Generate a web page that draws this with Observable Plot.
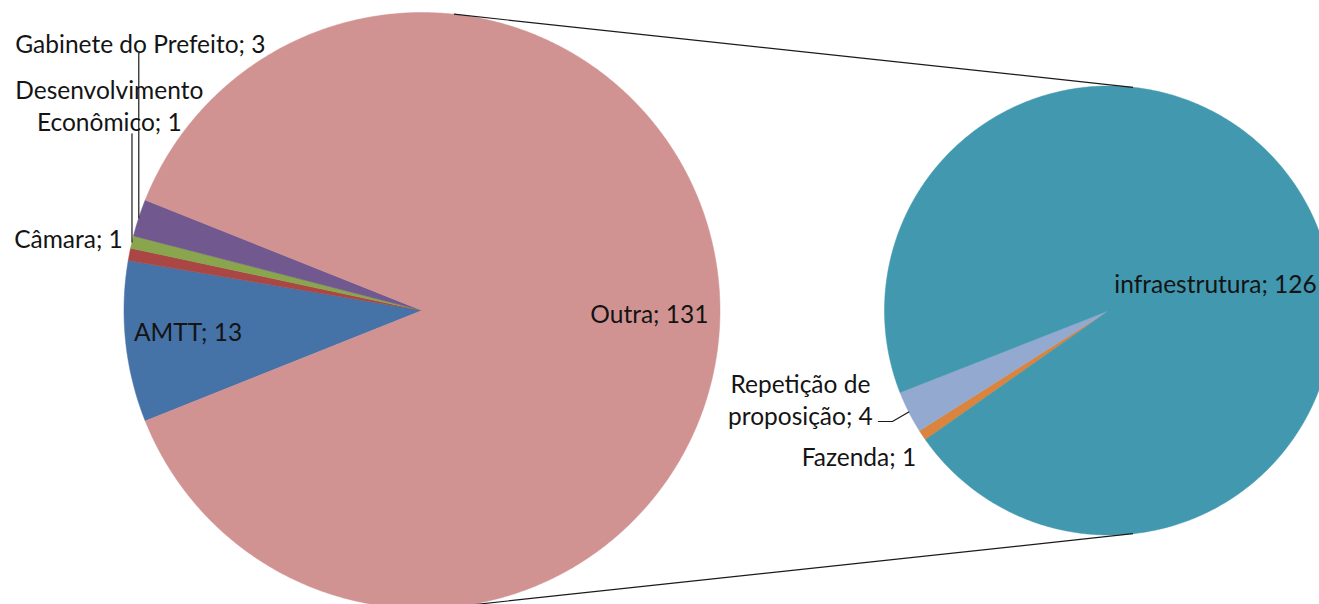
<!DOCTYPE html>
<html>
<head>
<meta charset="utf-8">
<script src="https://cdn.jsdelivr.net/npm/d3@7"></script>
<script src="https://cdn.jsdelivr.net/npm/@observablehq/plot@0.6"></script>
<style>
  html, body { margin: 0; padding: 0; background: #ffffff; overflow: hidden; }
  #chart svg { display: block; }
</style>
</head>
<body>
<div id="chart"></div>
<script>
// ---- data ----
const primaryNames = ["AMTT", "Câmara", "Desenvolvimento\nEconômico", "Gabinete do Prefeito", "Outra"];
const primaryValues = [13, 1, 1, 3, 131];
const secondaryNames = ["Fazenda", "Repetição de\nproposição", "infraestrutura"];
const secondaryValues = [1, 4, 126];

// ---- styles ----
const primaryColors = ["#4572A7", "#AA4643", "#89A54E", "#71588F", "#D19392"];
const secondaryColors = ["#DB843D", "#93A9CF", "#4198AF"];

// ---- layout ----
const W = 1319, H = 604;
const primaryPie = {cx: 421.5, cy: 310, r: 298};
const secondaryPie = {cx: 1108.5, cy: 310, r: 224.5};
const deg = Math.PI / 180;
// label placement in polar terms relative to each pie: [angle (deg, clockwise from top), radius factor]
const labelPolar = {
  "AMTT": [265, 0.788],
  "Câmara": [281.6, 1.211],
  "Desenvolvimento\nEconômico": [303.4, 1.257],
  "Gabinete do Prefeito": [313.6, 1.305],
  "Outra": [90.65, 0.763],
  "Fazenda": [239.8, 1.289],
  "Repetição de\nproposição": [254.0, 1.43],
  "infraestrutura": [75.6, 0.49]
};

// primary: the "Outra" slice is centred on 3 o'clock
const totalPrimary = d3.sum(primaryValues);
const outraSpan = primaryValues[primaryValues.length - 1] / totalPrimary * 2 * Math.PI;
const primaryStart = Math.PI / 2 + outraSpan / 2;
const secondaryStart = 234.85 * deg;

function makeSlices(names, values, colors, pie, start) {
  const arcs = d3.pie().sort(null).startAngle(start).endAngle(start + 2 * Math.PI)(values);
  return arcs.map((a, i) => ({name: names[i], value: values[i], color: colors[i], a0: a.startAngle, a1: a.endAngle, pie}));
}
const slices = [
  ...makeSlices(primaryNames, primaryValues, primaryColors, primaryPie, primaryStart),
  ...makeSlices(secondaryNames, secondaryValues, secondaryColors, secondaryPie, secondaryStart)
];

const polar = (pie, a, f) => ({x: pie.cx + pie.r * f * Math.sin(a), y: pie.cy - pie.r * f * Math.cos(a)});

// slice polygons
const polyPoints = [];
for (const s of slices) {
  const n = Math.max(2, Math.ceil((s.a1 - s.a0) / (0.4 * deg)));
  polyPoints.push({name: s.name, x: s.pie.cx, y: s.pie.cy});
  for (let k = 0; k <= n; k++) {
    const p = polar(s.pie, s.a0 + (s.a1 - s.a0) * k / n, 1);
    polyPoints.push({name: s.name, ...p});
  }
  polyPoints.push({name: s.name, x: s.pie.cx, y: s.pie.cy});
}

// labels
const labels = slices.map(s => {
  const [ang, f] = labelPolar[s.name];
  const p = polar(s.pie, ang * deg, f);
  return {name: s.name, text: s.name + "; " + s.value, ...p, s};
});
const byName = Object.fromEntries(labels.map(d => [d.name, d]));
const rimMid = s => polar(s.pie, (s.a0 + s.a1) / 2, 1);

// leader lines
const leaders = [];
{
  const g = byName["Gabinete do Prefeito"]; const m = rimMid(g.s);
  leaders.push({id: "g", x: m.x, y: g.y + 11}, {id: "g", x: m.x, y: m.y});
  const d = byName["Desenvolvimento\nEconômico"]; const md = rimMid(d.s);
  leaders.push({id: "d", x: md.x, y: d.y + 29.5}, {id: "d", x: md.x, y: md.y});
  const r = byName["Repetição de\nproposição"]; const mr = rimMid(r.s);
  leaders.push({id: "r", x: r.x + 78, y: r.y + 22.5}, {id: "r", x: r.x + 92, y: r.y + 22.5}, {id: "r", x: mr.x, y: mr.y});
}

// connector lines: common external tangents of the two pies
const dist = secondaryPie.cx - primaryPie.cx;
const th = Math.asin((primaryPie.r - secondaryPie.r) / dist);
const connectors = [-1, 1].map(sgn => ({
  x1: primaryPie.cx + primaryPie.r * Math.sin(th), y1: primaryPie.cy + sgn * primaryPie.r * Math.cos(th),
  x2: secondaryPie.cx + secondaryPie.r * Math.sin(th), y2: secondaryPie.cy + sgn * secondaryPie.r * Math.cos(th)
}));

const chart = Plot.plot({
  width: W, height: H, margin: 0,
  x: {domain: [0, W], range: [0, W], axis: null},
  y: {domain: [0, H], range: [0, H], axis: null},
  color: {domain: slices.map(s => s.name), range: slices.map(s => s.color)},
  style: {background: "#ffffff"},
  marks: [
    Plot.line(polyPoints, {x: "x", y: "y", z: "name", fill: "name", stroke: "name", strokeWidth: 0.5, curve: "linear"}),
    Plot.link(connectors, {x1: "x1", y1: "y1", x2: "x2", y2: "y2", stroke: "#1a1a1a", strokeWidth: 1.2}),
    Plot.line(leaders, {x: "x", y: "y", z: "id", stroke: "#1a1a1a", strokeWidth: 1.2}),
    Plot.text(labels, {x: "x", y: "y", text: "text", fill: "#141414", fontSize: 24.5, fontFamily: "Lato", lineHeight: 1.31, textAnchor: "middle", lineAnchor: "middle"})
  ]
});
document.getElementById("chart").appendChild(chart);
</script>
</body>
</html>
